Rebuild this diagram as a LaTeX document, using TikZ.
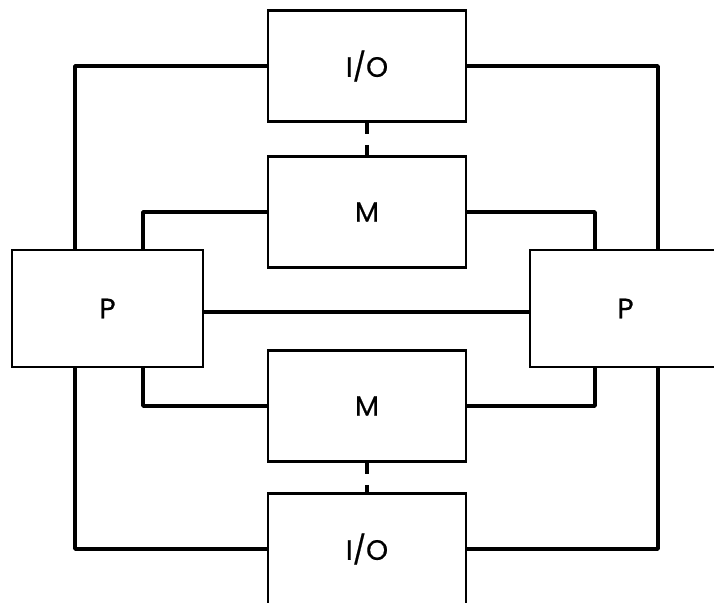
\documentclass[tikz,border=0pt]{standalone}
\usepackage{fontspec}
\setmainfont{Poppins}
\newfontfamily\labelfont{Poppins}[FakeBold=0.6]
\begin{document}
\begin{tikzpicture}[x=1pt,y=-1pt,
  box/.style={draw, line width=2.6pt, inner sep=0pt, font=\labelfont\fontsize{28}{28}\selectfont},
  pbox/.style={box, minimum width=191pt, minimum height=117pt},
  cbox/.style={box, minimum width=198pt, minimum height=111pt},
  wire/.style={line width=3.8pt, line join=round},
  link/.style={line width=3.8pt, dash pattern=on 11pt off 11pt}]
\useasboundingbox (0,0) rectangle (714,602);
\clip (0,0) rectangle (714,602);
\node[pbox] (pl) at (107.5,308.5) {P};
\node[pbox] (pr) at (625.5,308.5) {P};
\node[cbox] (io1) at (367,66) {I/O};
\node[cbox] (m1) at (367,212) {M};
\node[cbox] (m2) at (367,406) {M};
\node[cbox] (io2) at (367,549) {I/O};
\coordinate (lo) at (75,0);
\coordinate (li) at (143,0);
\coordinate (ri) at (595,0);
\coordinate (ro) at (658,0);
% outer loops
\draw[wire] (io1.west) -| (lo |- pl.north);
\draw[wire] (io1.east) -| (ro |- pr.north);
\draw[wire] (io2.west) -| (lo |- pl.south);
\draw[wire] (io2.east) -| (ro |- pr.south);
% inner loops
\draw[wire] (m1.west) -| (li |- pl.north);
\draw[wire] (m1.east) -| (ri |- pr.north);
\draw[wire] (m2.west) -| (li |- pl.south);
\draw[wire] (m2.east) -| (ri |- pr.south);
% processor link
\draw[wire] ([yshift=-3.5pt]pl.east) -- ([yshift=-3.5pt]pr.west);
% dashed links
\draw[link] (io1.south) -- (m1.north);
\draw[link] (m2.south) -- (io2.north);
\end{tikzpicture}
\end{document}
